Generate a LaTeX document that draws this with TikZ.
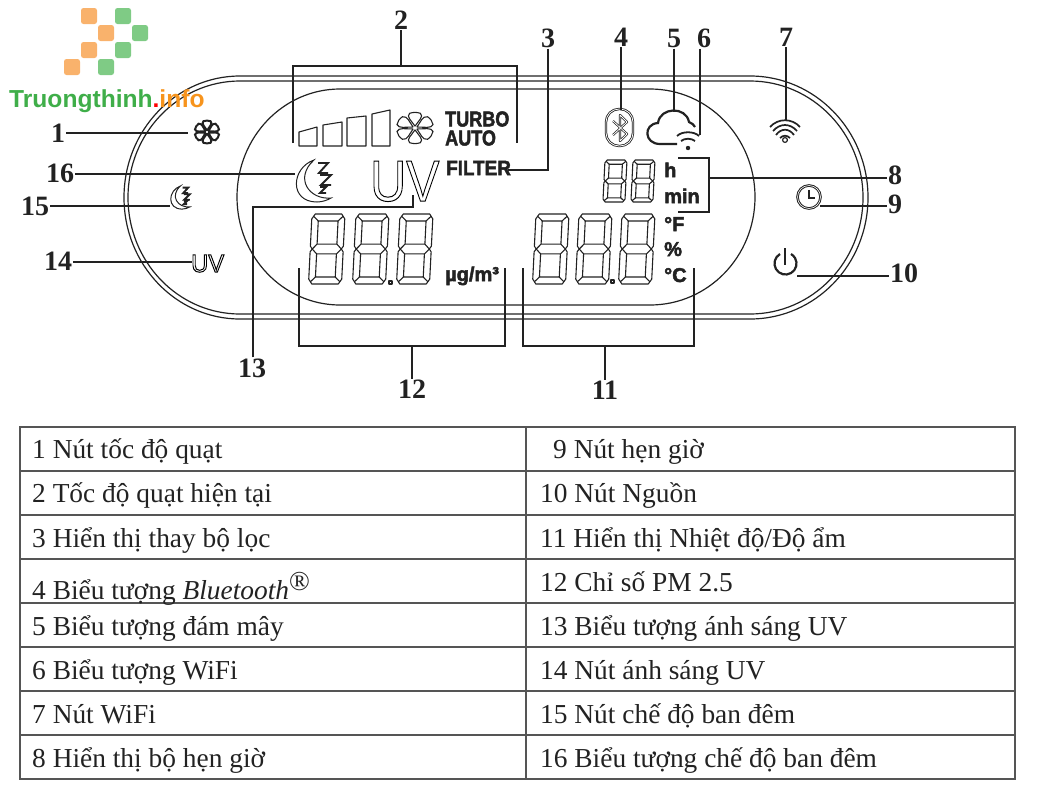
\documentclass[tikz,border=0pt]{standalone}
\usepackage{fontspec}
\setmainfont{Liberation Serif}
\newfontfamily\lcdfont{Liberation Sans}
\usepackage{xcolor}
\usetikzlibrary{positioning}
\definecolor{ink}{HTML}{222222}
\definecolor{rulegray}{HTML}{555555}
\definecolor{logoorange}{HTML}{F9B26C}
\definecolor{logogreen}{HTML}{7FCB85}
\definecolor{brandgreen}{HTML}{3FAE49}
\definecolor{brandorange}{HTML}{F7941D}
\tikzstyle{num}=[font=\fontsize{28}{32}\selectfont\bfseries, text=ink, inner sep=1pt]
\tikzstyle{lead}=[draw=ink, line width=1.4pt]
\tikzstyle{shell}=[draw=ink, line width=1.2pt]
\tikzstyle{lcd}=[font=\lcdfont\bfseries\fontsize{20}{22}\selectfont, text=ink, inner sep=0pt]
\tikzstyle{cell}=[font=\fontsize{27.4}{30}\selectfont, text=ink, inner sep=0pt, anchor=base west]
\tikzstyle{icon}=[draw=ink, line width=2.2pt]
\tikzstyle{seg}=[draw=ink, line width=1.1pt, line join=round]
\tikzstyle{logopix}=[rounded corners=2.5pt]
\def\outlined#1{\special{pdf:literal direct 1 Tr 1 w}#1\special{pdf:literal direct 0 Tr 1 w}}
\def\heavy#1{\special{pdf:literal direct 2 Tr 0.5 w}#1\special{pdf:literal direct 0 Tr 1 w}}
\def\segdigit#1#2#3#4{
	\begin{scope}[shift={(#1,#2)}, xslant=.05, xscale=#3, yscale=#4]
		\draw[seg] (.1,0)--(.9,0)--(1,.07)--(1,.46)--(.94,.5)--(1,.54)--(1,.93)--(.9,1)--(.1,1)--(0,.93)--(0,.54)--(.06,.5)--(0,.46)--(0,.07)--cycle;
		\draw[seg] (.2,.1) rectangle (.8,.43);
		\draw[seg] (.2,.57) rectangle (.8,.9);
		\draw[seg] (.05,.03)--(.2,.1) (.95,.03)--(.8,.1) (.05,.97)--(.2,.9) (.95,.97)--(.8,.9);
		\draw[seg] (.06,.5)--(.2,.43) (.06,.5)--(.2,.57) (.94,.5)--(.8,.43) (.94,.5)--(.8,.57);
	\end{scope}
}
\def\fanpetal#1{\draw[rotate=#1] (.12,0) .. controls (.5,.2) and (.75,.5) .. (.98,.3) .. controls (1.06,.1) and (1.06,-.1) .. (.98,-.3) .. controls (.75,-.5) and (.5,-.2) .. (.12,0);}
\def\fanicon#1#2#3#4#5{
	\begin{scope}[shift={(#1,#2)}, xscale=#3, yscale=#4, draw=ink, line width=#5]
		\fanpetal{90}
		\fanpetal{30}
		\fanpetal{-30}
		\fanpetal{-90}
		\fanpetal{-150}
		\fanpetal{150}
	\end{scope}
}
\def\moonicon#1#2#3#4{
	\begin{scope}[shift={(#1,#2)}, scale=#3]
		\draw[draw=ink, line width=#4] (19,0) .. controls (-4,8) and (-6,42) .. (22,42) .. controls (27,42) and (33,40) .. (36,38) .. controls (14,40) and (-1,18) .. (19,0) -- cycle;
		\draw[draw=ink, line width=1.9*#4] (23,3)--(33,3)--(24,13)--(33,13);
		\draw[draw=ink, line width=1.9*#4] (25,15)--(36,15)--(26,25)--(36,25);
		\draw[draw=ink, line width=1.9*#4] (25,27)--(31,27)--(25,33)--(31,33);
	\end{scope}
}

\begin{document}
\begin{tikzpicture}[x=1pt, y=-1pt]
	\useasboundingbox (0,0) rectangle (1040,785);
	\draw[shell] (240,76) arc[start angle=90, end angle=270, x radius=116pt, y radius=121.5pt] -- (750,319) arc[start angle=-90, end angle=90, x radius=118pt, y radius=121.5pt] -- cycle;
	\draw[shell] (240,81) arc[start angle=90, end angle=270, x radius=112pt, y radius=116.5pt] -- (750,314) arc[start angle=-90, end angle=90, x radius=113pt, y radius=116.5pt] -- cycle;
	\draw[shell] (340,89) arc[start angle=90, end angle=270, x radius=103pt, y radius=108pt] -- (650,305) arc[start angle=-90, end angle=90, x radius=105pt, y radius=108pt] -- cycle;

	\fill[logoorange, logopix] (81,8) rectangle (97,24);
	\fill[logoorange, logopix] (98,25) rectangle (114,41);
	\fill[logoorange, logopix] (81,42) rectangle (97,58);
	\fill[logoorange, logopix] (64,59) rectangle (80,75);
	\fill[logogreen, logopix] (115,8) rectangle (131,24);
	\fill[logogreen, logopix] (132,25) rectangle (148,41);
	\fill[logogreen, logopix] (115,42) rectangle (131,58);
	\fill[logogreen, logopix] (98,59) rectangle (114,75);
	\node[inner sep=0pt, anchor=base west, font=\lcdfont\bfseries\fontsize{24.6}{28}\selectfont] (brand) at (9,107) {\textcolor{brandgreen}{Truongthinh}\textcolor{red}{.}\textcolor{brandorange}{info}};

	\draw[seg] (299,146)--(299,132)--(317,127)--(317,146)--cycle;
	\draw[seg] (323,146)--(323,125)--(342,122)--(342,146)--cycle;
	\draw[seg] (347,146)--(347,118)--(366,116)--(366,146)--cycle;
	\draw[seg] (372,146)--(372,114)--(390,110)--(390,146)--cycle;
	\fanicon{415}{128}{18}{15}{1.1pt}
	\fanicon{207}{132}{12}{11}{2pt}
	\node[lcd, anchor=west, xscale=.84, font=\lcdfont\bfseries\fontsize{21.5}{23}\selectfont] (turbo) at (445,119) {\heavy{TURBO}};
	\node[lcd, anchor=west, xscale=.84, font=\lcdfont\bfseries\fontsize{21.5}{23}\selectfont] (auto) at (445,138) {\heavy{AUTO}};
	\node[lcd, anchor=west, xscale=.9, font=\lcdfont\bfseries\fontsize{21}{23}\selectfont] (filter) at (446,168) {\heavy{FILTER}};

	\moonicon{295}{160}{1}{1pt}
	\moonicon{170}{186}{.55}{1pt}
	\node[inner sep=0pt, anchor=base west, font=\lcdfont\fontsize{58}{60}\selectfont, xscale=.86] (uvbig) at (370,201) {\outlined{UV}};
	\node[inner sep=0pt, anchor=base west, font=\lcdfont\fontsize{25}{28}\selectfont, xscale=.95] (uvbtn) at (191,272) {\outlined{UV}};

	\segdigit{312}{214}{33}{70}
	\segdigit{356}{214}{33}{70}
	\segdigit{400}{214}{33}{70}
	\draw[seg] (389,281) rectangle (392,284);
	\node[lcd, anchor=base west, font=\lcdfont\bfseries\fontsize{20}{22}\selectfont] (ugm) at (445,281) {\heavy{µg/m³}};

	\segdigit{536}{214}{33}{70}
	\segdigit{579}{214}{33}{70}
	\segdigit{622}{214}{33}{70}
	\draw[seg] (611,280) rectangle (614,283);
	\segdigit{605}{160}{22}{42}
	\segdigit{633}{160}{22}{42}
	\node[lcd, anchor=base west] (hour) at (664,177) {\heavy{h}};
	\node[lcd, anchor=base west] (minute) at (664,203) {\heavy{min}};
	\node[lcd, anchor=base west] (degf) at (664,231) {\heavy{°F}};
	\node[lcd, anchor=base west] (pct) at (664,256) {\heavy{\%}};
	\node[lcd, anchor=base west] (degc) at (664,282) {\heavy{°C}};

	\draw[seg, line width=.8pt, double=white, double distance=.8pt, rounded corners=13pt] (606,109) rectangle (633,146);
	\draw[seg, line width=.7pt, double=white, double distance=.8pt] (613,121)--(627,134)--(620,141)--(620,115)--(627,122)--(613,135);
	\draw[icon] (677,144) -- (660,144) .. controls (644,144) and (643,124) .. (658,123) .. controls (660,107) and (686,106) .. (689,122) .. controls (692,123) and (694,125) .. (695,127);
	\draw[icon, line width=1.8pt] (677,136) .. controls (682,131) and (694,131) .. (699,136);
	\draw[icon, line width=1.8pt] (681,141) .. controls (685,138) and (691,138) .. (695,141);
	\fill[ink] (688,148) circle (2.2pt);
	\draw[ink, line width=1.7pt] (770,127) .. controls (778,118) and (792,118) .. (800,127);
	\draw[ink, line width=1.7pt] (773,131) .. controls (780,123) and (790,123) .. (797,131);
	\draw[ink, line width=1.7pt] (776,135) .. controls (781,128) and (789,128) .. (794,135);
	\draw[ink, line width=1.7pt] (780,138) .. controls (783,135) and (787,135) .. (790,138);
	\draw[ink, line width=1.2pt] (785,140) circle (2.4pt);
	\draw[icon, double=white, double distance=.6pt, line width=1pt] (809,197) circle (11.5pt);
	\draw[icon] (809,190) -- (809,198) -- (815,198);
	\draw[icon] (780,254) arc[start angle=120, end angle=420, radius=11pt];
	\draw[icon] (785,248) -- (785,265);

	\node[num] (n1) at (58,133) {1};
	\node[num] (n2) at (401,20) {2};
	\node[num] (n3) at (548,38) {3};
	\node[num] (n4) at (621,37) {4};
	\node[num] (n5) at (674,38) {5};
	\node[num] (n6) at (704,38) {6};
	\node[num] (n7) at (786,37) {7};
	\node[num] (n8) at (895,175) {8};
	\node[num] (n9) at (895,204) {9};
	\node[num] (n10) at (904,273) {10};
	\node[num] (n11) at (605,390) {11};
	\node[num] (n12) at (412,389) {12};
	\node[num] (n13) at (252,368) {13};
	\node[num] (n14) at (58,261) {14};
	\node[num] (n15) at (35,206) {15};
	\node[num] (n16) at (60,173) {16};

	\coordinate (fanbtn) at (188,133);
	\coordinate (spdtop) at (401,66);
	\coordinate (filterend) at (508,170);
	\coordinate (blue) at (621,110);
	\coordinate (cloud) at (674,112);
	\coordinate (wifi) at (700,135);
	\coordinate (wifibtn) at (786,120);
	\coordinate (tmrbrk) at (709,178);
	\coordinate (clock) at (820,206);
	\coordinate (power) at (797,276);
	\coordinate (tempbot) at (605,346);
	\coordinate (pmbot) at (412,346);
	\coordinate (uvend) at (413,195);
	\coordinate (uvbtnend) at (192,262);
	\coordinate (moonbtn) at (170,206);
	\coordinate (moon) at (295,174);

	\draw[lead] (n1) -- (fanbtn);
	\draw[lead] (n2) -- (spdtop);
	\draw[lead] (293,143) -- (293,66) -- (517,66) -- (517,143);
	\draw[lead] (n3) -- (n3 |- filterend) -- (filterend);
	\draw[lead] (n4) -- (blue);
	\draw[lead] (n5) -- (cloud);
	\draw[lead] (n6.south -| wifi) -- (wifi);
	\draw[lead] (n7) -- (wifibtn);
	\draw[lead] (n8.west |- tmrbrk) -- (tmrbrk);
	\draw[lead] (678,158) -- (709,158) -- (709,212) -- (678,212);
	\draw[lead] (n9.west |- clock) -- (clock);
	\draw[lead] (n10.west |- power) -- (power);
	\draw[lead] (n11) -- (tempbot);
	\draw[lead] (523,268) -- (523,346) -- (694,346) -- (694,268);
	\draw[lead] (n12) -- (pmbot);
	\draw[lead] (299,268) -- (299,346) -- (505,346) -- (505,268);
	\draw[lead] (n13.north -| 253,0) -- (253,207) -- (413,207) -- (uvend);
	\draw[lead] (n14.east |- uvbtnend) -- (uvbtnend);
	\draw[lead] (n15.east |- moonbtn) -- (moonbtn);
	\draw[lead] (n16.east |- moon) -- (moon);

	\draw[rulegray, line width=1.5pt] (20,427) rectangle (1015,779);
	\draw[rulegray, line width=1.5pt] (526,427) -- (526,779);
	\draw[rulegray, line width=1.5pt] (20,471) -- (1015,471);
	\draw[rulegray, line width=1.5pt] (20,515) -- (1015,515);
	\draw[rulegray, line width=1.5pt] (20,559) -- (1015,559);
	\draw[rulegray, line width=1.5pt] (20,603) -- (1015,603);
	\draw[rulegray, line width=1.5pt] (20,647) -- (1015,647);
	\draw[rulegray, line width=1.5pt] (20,691) -- (1015,691);
	\draw[rulegray, line width=1.5pt] (20,735) -- (1015,735);

	\node[cell] (L1) at (32,458) {1 Nút tốc độ quạt};
	\node[cell] (L2) at (32,502) {2 Tốc độ quạt hiện tại};
	\node[cell] (L3) at (32,547) {3 Hiển thị thay bộ lọc};
	\node[cell] (L4) at (32,599) {4 Biểu tượng \textit{Bluetooth}\raisebox{.3em}{®}};
	\node[cell] (L5) at (32,635) {5 Biểu tượng đám mây};
	\node[cell] (L6) at (32,679) {6 Biểu tượng WiFi};
	\node[cell] (L7) at (32,723) {7 Nút WiFi};
	\node[cell] (L8) at (32,767) {8 Hiển thị bộ hẹn giờ};
	\node[cell] (R1) at (553,458) {9 Nút hẹn giờ};
	\node[cell] (R2) at (540,502) {10 Nút Nguồn};
	\node[cell] (R3) at (540,547) {11 Hiển thị Nhiệt độ/Độ ẩm};
	\node[cell] (R4) at (540,591) {12 Chỉ số PM 2.5};
	\node[cell] (R5) at (540,635) {13 Biểu tượng ánh sáng UV};
	\node[cell] (R6) at (540,679) {14 Nút ánh sáng UV};
	\node[cell] (R7) at (540,723) {15 Nút chế độ ban đêm};
	\node[cell] (R8) at (540,767) {16 Biểu tượng chế độ ban đêm};
\end{tikzpicture}
\end{document}
